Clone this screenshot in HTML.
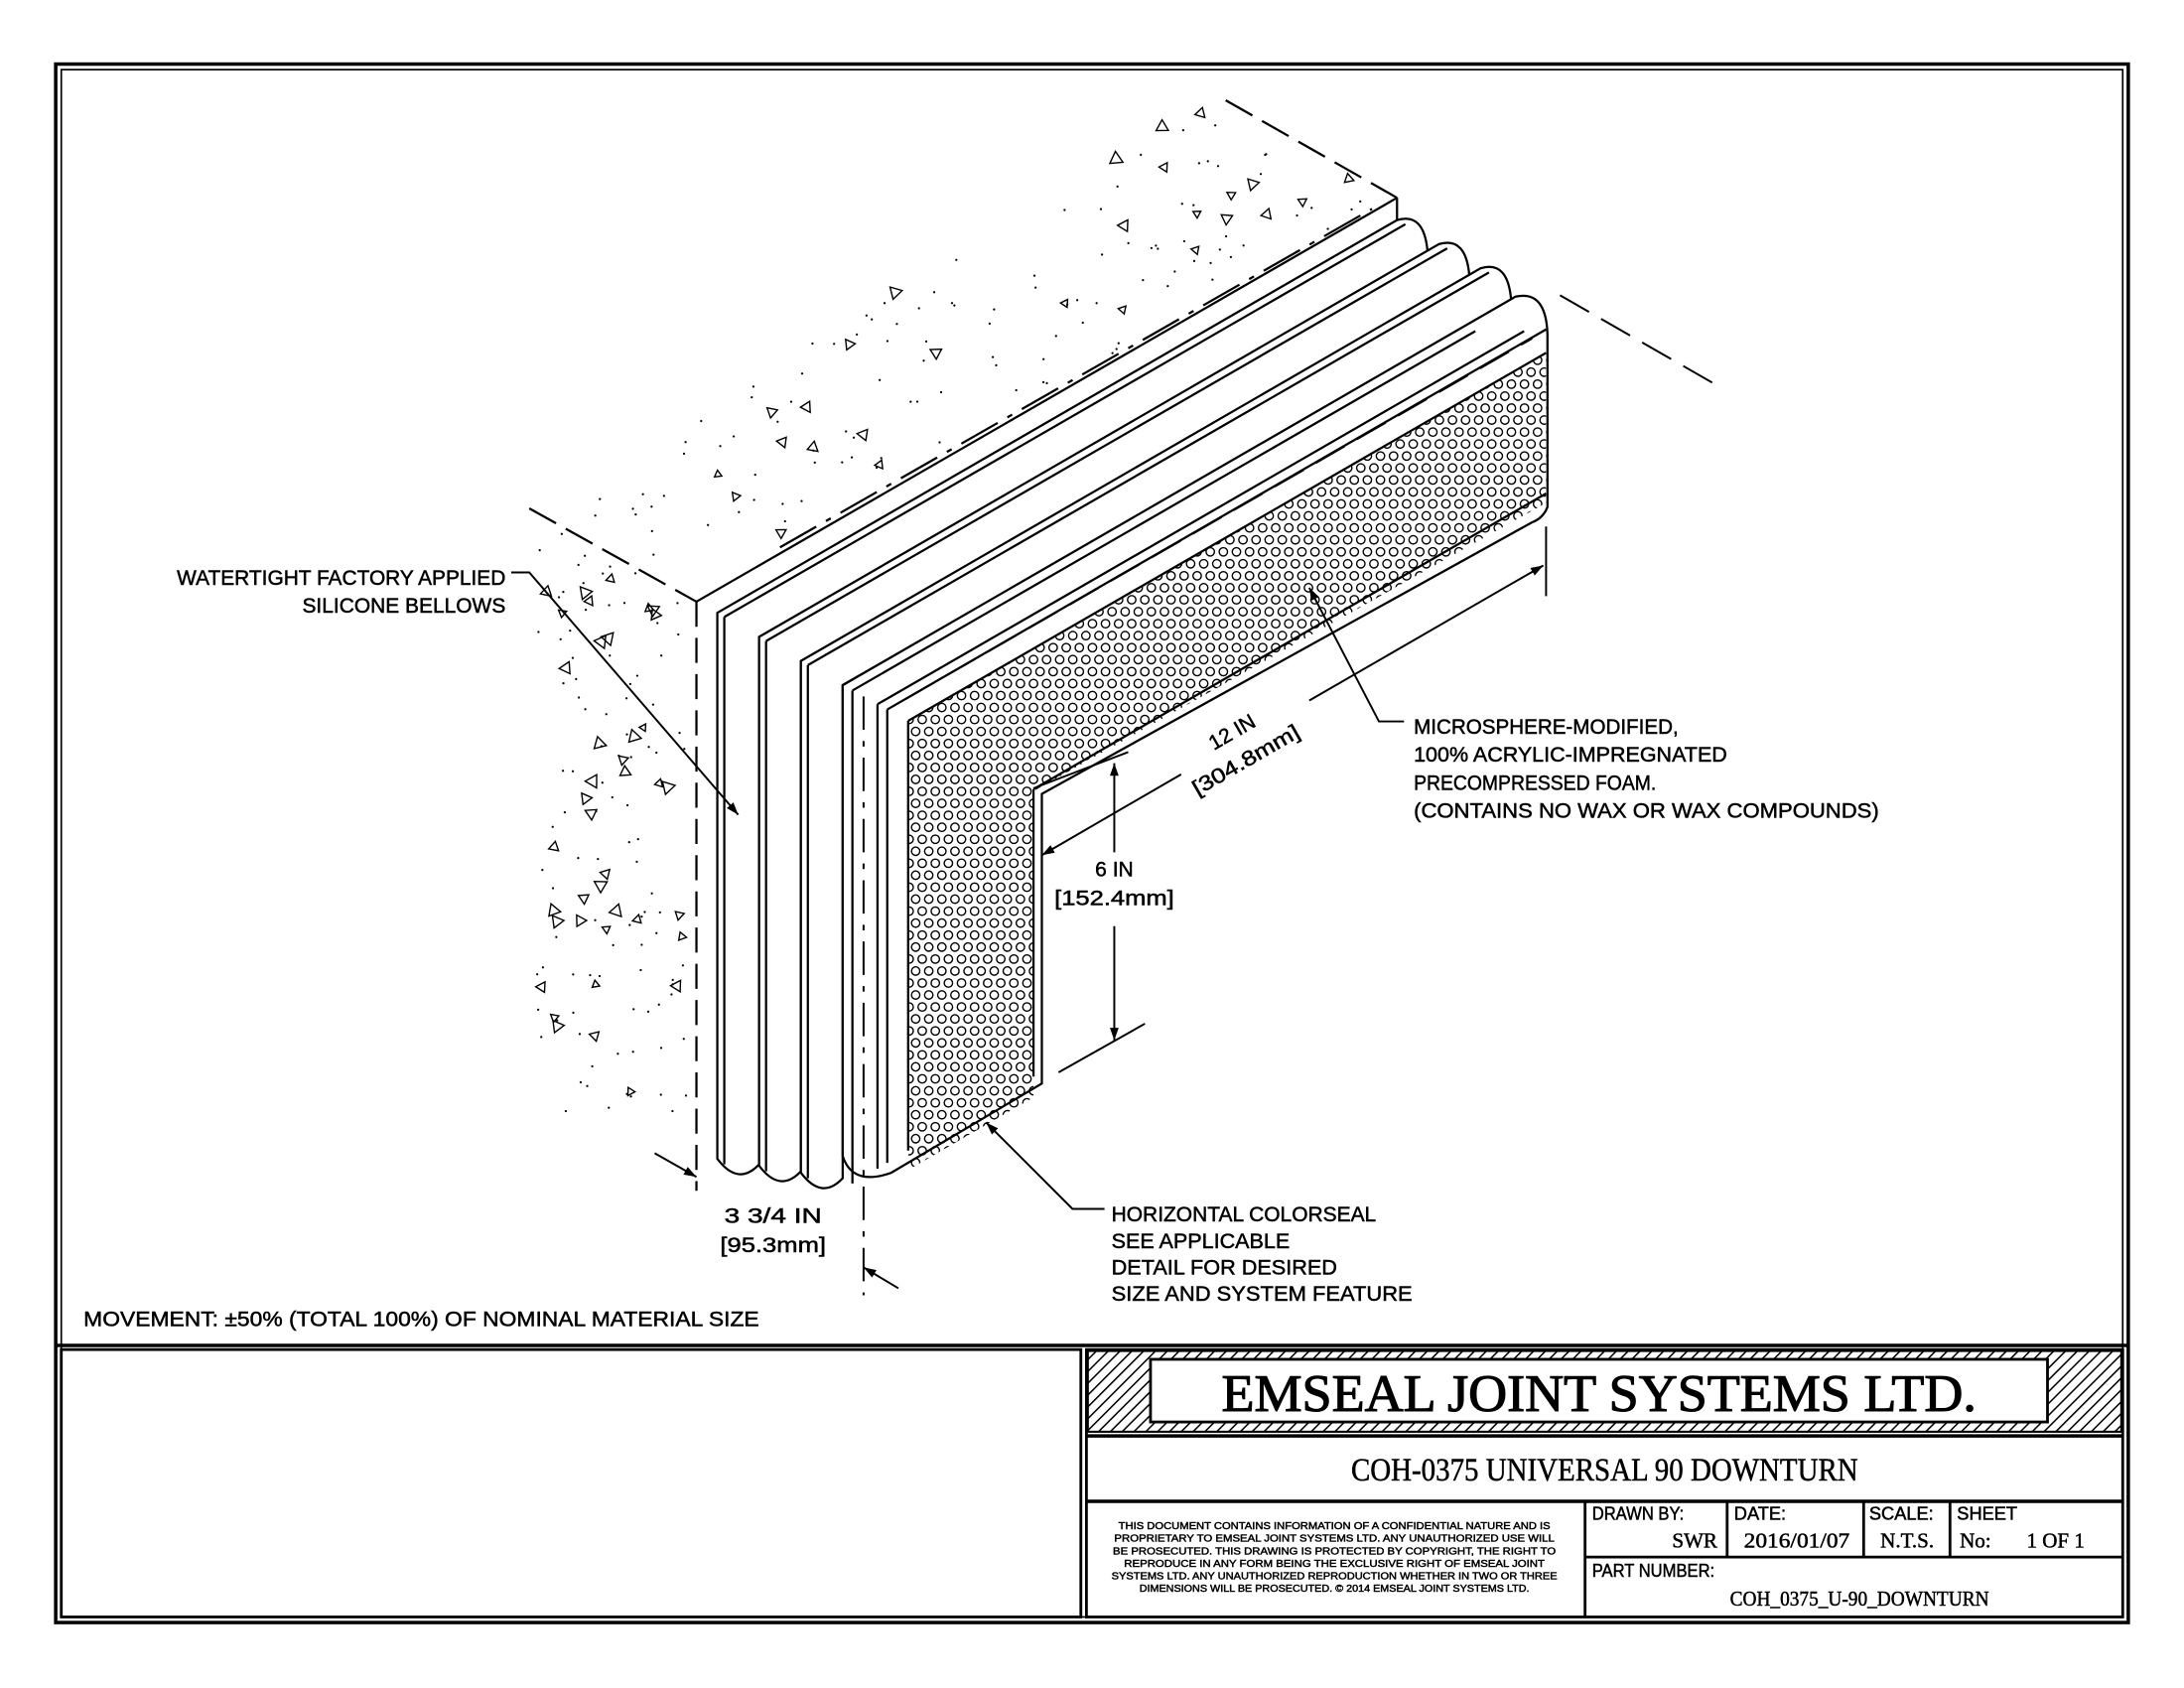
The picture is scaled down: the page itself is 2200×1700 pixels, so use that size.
<!DOCTYPE html>
<html><head><meta charset="utf-8"><style>
html,body{margin:0;padding:0;background:#fff;}
svg{display:block;}
text{font-family:"Liberation Sans",sans-serif;fill:#000;stroke:#000;stroke-width:0.35;}
.s{font-family:"Liberation Serif",serif;}
</style></head><body>
<svg id="d" xmlns="http://www.w3.org/2000/svg" width="2200" height="1700" viewBox="0 0 1568 1212" preserveAspectRatio="none">
<defs>
<pattern id="hatch" width="6" height="6" patternUnits="userSpaceOnUse" patternTransform="rotate(45)">
<rect width="6" height="6" fill="#fff"/><line x1="0" y1="0" x2="0" y2="6" stroke="#000" stroke-width="2.2"/></pattern>
<marker id="ar" viewBox="0 0 10 10" refX="10" refY="5" markerWidth="9" markerHeight="9" orient="auto-start-reverse" markerUnits="userSpaceOnUse"><path d="M0,1.5 L10,5 L0,8.5 z" fill="#000"/></marker>
<clipPath id="foamclip"><polygon points="652,518 1110,254 1110,361 742,568 742,788 652,840"/></clipPath>
</defs>
<g fill="none" stroke="#000" stroke-width="1.6">
<rect x="40" y="46" width="1488" height="1119" stroke-width="2.5"/>
<rect x="44" y="50" width="1480" height="1111" stroke-width="1.2"/>
<line x1="40" y1="966" x2="1528" y2="966" stroke-width="2.5"/>
<rect x="44" y="969" width="732" height="192" stroke-width="2"/>
<rect x="780" y="969" width="744" height="192" stroke-width="2"/>
<rect x="781" y="970" width="742" height="58" fill="url(#hatch)" stroke-width="1.5"/>
<rect x="826" y="976" width="644" height="45" fill="#fff" stroke-width="2"/>
<line x1="780" y1="1031" x2="1524" y2="1031" stroke-width="2.5"/>
<line x1="780" y1="1078" x2="1524" y2="1078" stroke-width="2.5"/>
<line x1="1138" y1="1078" x2="1138" y2="1161" stroke-width="2"/>
<line x1="1240" y1="1078" x2="1240" y2="1118" stroke-width="2"/>
<line x1="1338" y1="1078" x2="1338" y2="1118" stroke-width="2"/>
<line x1="1400" y1="1078" x2="1400" y2="1118" stroke-width="2"/>
<line x1="1138" y1="1118" x2="1524" y2="1118" stroke-width="2"/>
</g>
<g id="conc" fill="none" stroke="#000" stroke-width="1"></g>
<g fill="none" stroke="#000" stroke-width="1.6">
<line x1="380" y1="365" x2="500" y2="432" stroke-dasharray="22,8"/>
<line x1="880" y1="72" x2="1003" y2="142" stroke-dasharray="22,8"/>
<line x1="500" y1="432" x2="1003" y2="142"/>
<line x1="1003" y1="142" x2="1003" y2="158"/>
<line x1="560" y1="393" x2="985" y2="150" stroke-dasharray="30,8,4,8"/>
<line x1="500" y1="432" x2="500" y2="855" stroke-dasharray="18,8"/>
</g>
<g id="seal" fill="#fff" stroke="#000" stroke-width="1.6"></g>
<g id="foam" clip-path="url(#foamclip)" fill="none" stroke="#000" stroke-width="1"></g>
<g id="seal2" fill="none" stroke="#000" stroke-width="1.6"></g>
<g fill="none" stroke="#000" stroke-width="1.4">
<line x1="650" y1="502" x2="1100" y2="243" stroke-dasharray="24,10"/>
<line x1="1120" y1="212" x2="1235" y2="278" stroke-dasharray="24,10"/>
<line x1="620" y1="500" x2="620" y2="930" stroke-dasharray="24,8,4,8"/>
<line x1="1110" y1="378" x2="1110" y2="428"/>
<line x1="748" y1="614" x2="848" y2="556" marker-start="url(#ar)"/>
<line x1="940" y1="503" x2="1108" y2="406" marker-end="url(#ar)"/>
<line x1="742" y1="566" x2="810" y2="540"/>
<line x1="760" y1="770" x2="822" y2="735"/>
<line x1="800" y1="612" x2="800" y2="548" marker-end="url(#ar)"/>
<line x1="800" y1="665" x2="800" y2="747" marker-end="url(#ar)"/>
<line x1="470" y1="828" x2="500" y2="845" marker-end="url(#ar)"/>
<line x1="645" y1="925" x2="620" y2="910" marker-end="url(#ar)"/>
<polyline points="367,411 380,411 530,585" marker-end="url(#ar)"/>
<polyline points="1008,518 990,518 940,422" marker-end="url(#ar)"/>
<polyline points="793,868 770,868 708,806" marker-end="url(#ar)"/>
</g>
<g font-size="15">
<text x="363" y="420" text-anchor="end" textLength="236" lengthAdjust="spacingAndGlyphs">WATERTIGHT FACTORY APPLIED</text>
<text x="363" y="440" text-anchor="end" textLength="146" lengthAdjust="spacingAndGlyphs">SILICONE BELLOWS</text>
<text x="1015" y="527" textLength="190" lengthAdjust="spacingAndGlyphs">MICROSPHERE-MODIFIED,</text>
<text x="1015" y="547" textLength="225" lengthAdjust="spacingAndGlyphs">100% ACRYLIC-IMPREGNATED</text>
<text x="1015" y="567" textLength="174" lengthAdjust="spacingAndGlyphs">PRECOMPRESSED FOAM.</text>
<text x="1015" y="587" textLength="334" lengthAdjust="spacingAndGlyphs">(CONTAINS NO WAX OR WAX COMPOUNDS)</text>
<text x="798" y="877" textLength="190" lengthAdjust="spacingAndGlyphs">HORIZONTAL COLORSEAL</text>
<text x="798" y="896" textLength="128" lengthAdjust="spacingAndGlyphs">SEE APPLICABLE</text>
<text x="798" y="915" textLength="162" lengthAdjust="spacingAndGlyphs">DETAIL FOR DESIRED</text>
<text x="798" y="934" textLength="216" lengthAdjust="spacingAndGlyphs">SIZE AND SYSTEM FEATURE</text>
<text x="60" y="952" textLength="485" lengthAdjust="spacingAndGlyphs">MOVEMENT: ±50% (TOTAL 100%) OF NOMINAL MATERIAL SIZE</text>
<text x="800" y="629" text-anchor="middle">6 IN</text>
<text x="800" y="650" text-anchor="middle" textLength="86" lengthAdjust="spacingAndGlyphs">[152.4mm]</text>
<text x="555" y="878" text-anchor="middle" textLength="70" lengthAdjust="spacingAndGlyphs">3 3/4 IN</text>
<text x="555" y="899" text-anchor="middle" textLength="76" lengthAdjust="spacingAndGlyphs">[95.3mm]</text>
<text transform="translate(887,530) rotate(-30)" text-anchor="middle">12 IN</text>
<text transform="translate(897,550) rotate(-30)" text-anchor="middle" textLength="86" lengthAdjust="spacingAndGlyphs">[304.8mm]</text>
</g>
<text class="s" x="1148" y="1013" font-size="38" text-anchor="middle" textLength="542" lengthAdjust="spacingAndGlyphs" style="stroke-width:0.8">EMSEAL JOINT SYSTEMS LTD.</text>
<text class="s" x="1152" y="1063" font-size="23" text-anchor="middle" textLength="364" lengthAdjust="spacingAndGlyphs">COH-0375 UNIVERSAL 90 DOWNTURN</text>
<g font-size="7.5" text-anchor="middle" style="stroke-width:0.25">
<text x="958" y="1098" textLength="310" lengthAdjust="spacingAndGlyphs">THIS DOCUMENT CONTAINS INFORMATION OF A CONFIDENTIAL NATURE AND IS</text>
<text x="958" y="1107" textLength="316" lengthAdjust="spacingAndGlyphs">PROPRIETARY TO EMSEAL JOINT SYSTEMS LTD. ANY UNAUTHORIZED USE WILL</text>
<text x="958" y="1116" textLength="318" lengthAdjust="spacingAndGlyphs">BE PROSECUTED. THIS DRAWING IS PROTECTED BY COPYRIGHT, THE RIGHT TO</text>
<text x="958" y="1125" textLength="302" lengthAdjust="spacingAndGlyphs">REPRODUCE IN ANY FORM BEING THE EXCLUSIVE RIGHT OF EMSEAL JOINT</text>
<text x="958" y="1134" textLength="320" lengthAdjust="spacingAndGlyphs">SYSTEMS LTD. ANY UNAUTHORIZED REPRODUCTION WHETHER IN TWO OR THREE</text>
<text x="958" y="1143" textLength="280" lengthAdjust="spacingAndGlyphs">DIMENSIONS WILL BE PROSECUTED. © 2014 EMSEAL JOINT SYSTEMS LTD.</text>
</g>
<g font-size="13">
<text x="1143" y="1091" textLength="66" lengthAdjust="spacingAndGlyphs">DRAWN BY:</text>
<text x="1245" y="1091">DATE:</text>
<text x="1342" y="1091">SCALE:</text>
<text x="1405" y="1091">SHEET</text>
<text x="1143" y="1132" textLength="88" lengthAdjust="spacingAndGlyphs">PART NUMBER:</text>
</g>
<g font-size="15">
<text class="s" x="1233" y="1111" text-anchor="end">SWR</text>
<text class="s" x="1252" y="1111" textLength="76" lengthAdjust="spacingAndGlyphs">2016/01/07</text>
<text class="s" x="1350" y="1111">N.T.S.</text>
<text class="s" x="1407" y="1111">No:</text>
<text class="s" x="1455" y="1111">1 OF 1</text>
<text class="s" x="1335" y="1153" text-anchor="middle" textLength="186" lengthAdjust="spacingAndGlyphs">COH_0375_U-90_DOWNTURN</text>
</g>
</svg>
<script>
(function(){
var NS="http://www.w3.org/2000/svg";
function el(p,t,a){var e=document.createElementNS(NS,t);for(var k in a)e.setAttribute(k,a[k]);p.appendChild(e);return e;}
var seed=12345;function r(){seed=(seed*1103515245+12345)%2147483648;return seed/2147483648;}
var conc=document.getElementById('conc');
function inTop(x,y){
 var yFront=432-(x-500)*0.5765; var yBack=365-(x-380)*0.62;
 return x>385&&x<1000&&y<yFront-6&&y>Math.max(yBack,72+(x-880)*0.57+(x>880?0:-999))+4;}
function tri(x,y,s){var a=r()*6.28;var p=[];for(var i=0;i<3;i++){var b=a+i*2.094;p.push((x+s*Math.cos(b)).toFixed(1)+","+(y+s*Math.sin(b)).toFixed(1));}el(conc,'polygon',{points:p.join(' ')});}
for(var i=0;i<480;i++){var x=385+r()*620,y=70+r()*370;if(!inTop(x,y))continue;
 if(r()<0.2)tri(x,y,3+r()*2.5);else el(conc,'circle',{cx:x.toFixed(1),cy:y.toFixed(1),r:0.8,fill:'#000',stroke:'none'});}
for(var i=0;i<140;i++){var x=385+r()*108,y=380+r()*420;if(y<365+(x-380)*0.56+10)continue;
 if(r()<0.22)tri(x,y,3+r()*2.5);else el(conc,'circle',{cx:x.toFixed(1),cy:y.toFixed(1),r:0.8,fill:'#000',stroke:'none'});}
var seal=document.getElementById('seal'),s2=document.getElementById('seal2');
for(var b=0;b<3;b++){var x0=515+30*b,y0=440+17.3*b,xe=x0+488,ye=y0-282,yb=836+5*b;
 var d="M"+x0+","+y0+" L"+xe+","+ye+" Q"+(xe+20)+","+(ye-6)+" "+(xe+22)+","+(ye+24)+" L"+(x0+30)+","+(y0+17.3)+" L"+(x0+30)+","+(yb)+" Q"+(x0+15)+","+(yb+16)+" "+x0+","+(yb-4)+" Z";
 el(seal,'path',{d:d});
 el(s2,'line',{x1:x0+5,y1:y0+3,x2:xe+6,y2:ye+3});
 el(s2,'line',{x1:x0+5,y1:y0+3,x2:x0+5,y2:yb});
}
var d="M605,492 L1088,213 Q1110,208 1111,240 L1111,364 Q1108,372 1100,375 L748,570 L748,778 L640,842 Q612,852 605,830 Z";
el(seal,'path',{d:d});
var fr=[612,630,637,652,742];
fr.forEach(function(x){var yt=492+0.545*(x-605),ybt=845-0.59*(x-620);var xe=1110,ye=yt-0.577*(xe-x);
 if(ye<232){xe=x+(yt-232)/0.577+((x<640)?-10:0);ye=yt-0.577*(xe-x);}
 el(s2,'line',{x1:x,y1:yt,x2:xe,y2:ye});el(s2,'line',{x1:x,y1:yt,x2:x,y2:ybt});});
var foam=document.getElementById('foam');
for(var y=250;y<850;y+=8.6){var row=Math.round((y-250)/8.6);for(var x=648+(row%2)*4.7;x<1115;x+=9.4){el(foam,'circle',{cx:x.toFixed(1),cy:y.toFixed(1),r:3});}}
})();
</script>
</body></html>
